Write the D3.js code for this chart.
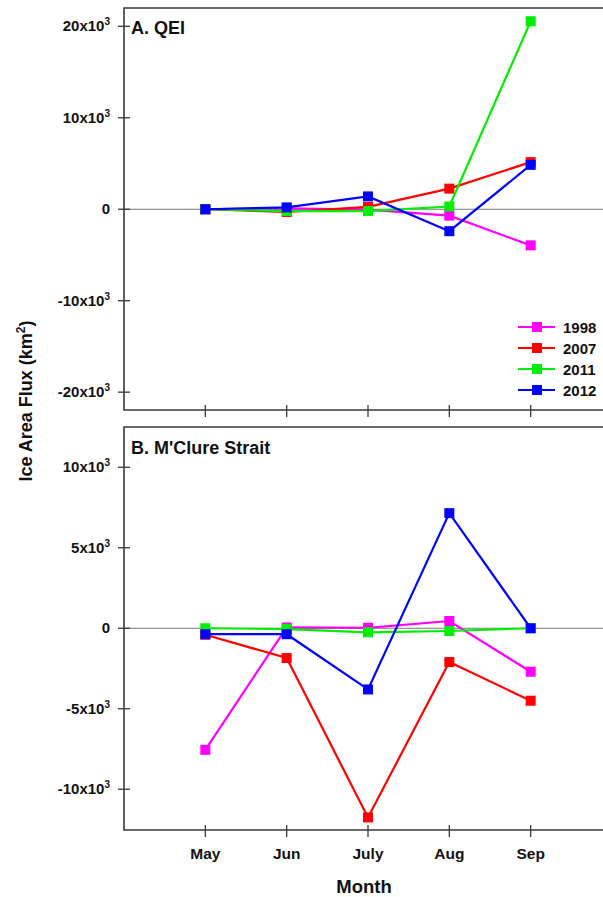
<!DOCTYPE html>
<html>
<head>
<meta charset="utf-8">
<script src="https://cdn.jsdelivr.net/npm/d3@7/dist/d3.min.js"></script>
<style>
  html, body { margin: 0; padding: 0; background: #fff; }
  svg { display: block; font-family: "Liberation Sans", Arial, sans-serif; font-weight: bold; }
</style>
</head>
<body>
<svg id="chart" width="603" height="897"></svg>
<script>
// Months on the x axis
const months = ["May", "Jun", "July", "Aug", "Sep"];
// Years plotted as series
const years = ["1998", "2007", "2011", "2012"];
const yearColors = ["#ff00ff", "#ff0000", "#00ee00", "#0000ff"];

// A. QEI ice area flux (km²)
const qei1998 = [0, 100, -50, -700, -3950];
const qei2007 = [0, -300, 250, 2250, 5150];
const qei2011 = [0, -200, -200, 300, 20550];
const qei2012 = [0, 200, 1400, -2400, 4850];

// B. M'Clure Strait ice area flux (km²)
const mcl1998 = [-7550, 50, 30, 450, -2700];
const mcl2007 = [-400, -1850, -11750, -2100, -4500];
const mcl2011 = [0, -50, -250, -170, 0];
const mcl2012 = [-370, -370, -3800, 7150, 0];

// Tick values and labels (mantissa, exponent)
const qeiTicks = [20000, 10000, 0, -10000, -20000];
const qeiTickLabels = [["20x10", "3"], ["10x10", "3"], ["0", ""], ["-10x10", "3"], ["-20x10", "3"]];
const mclTicks = [10000, 5000, 0, -5000, -10000];
const mclTickLabels = [["10x10", "3"], ["5x10", "3"], ["0", ""], ["-5x10", "3"], ["-10x10", "3"]];

const svg = d3.select("#chart");
const axisColor = "#3a3a3a";

const x = d3.scalePoint().domain(months).range([124, 612]).padding(1);

function panel(cfg) {
  const y = d3.scaleLinear().domain(cfg.domain).range([cfg.bottom, cfg.top]);
  const g = svg.append("g");
  const left = 124, right = 603;

  // zero reference line
  g.append("line")
    .attr("x1", left).attr("x2", right)
    .attr("y1", y(0)).attr("y2", y(0))
    .attr("stroke", "#777").attr("stroke-width", 1.2);

  // frame: top, left, bottom
  g.append("path")
    .attr("d", `M${right},${cfg.top}H${left}V${cfg.bottom}H${right}`)
    .attr("fill", "none").attr("stroke", axisColor).attr("stroke-width", 1.6);

  // y ticks, crossing the axis
  g.selectAll(".yt").data(cfg.ticks).join("line")
    .attr("x1", left - 6).attr("x2", left + 6)
    .attr("y1", d => y(d)).attr("y2", d => y(d))
    .attr("stroke", axisColor).attr("stroke-width", 1.3);

  const lbl = g.selectAll(".yl").data(cfg.ticks).join("text")
    .attr("x", 110).attr("y", d => y(d) + 5)
    .attr("text-anchor", "end")
    .attr("font-size", 15).attr("fill", "#111");
  lbl.append("tspan").text((d, i) => cfg.labels[i][0]);
  lbl.append("tspan").attr("dy", -6).attr("font-size", 10).text((d, i) => cfg.labels[i][1]);

  // x ticks, crossing the axis
  g.selectAll(".xt").data(months).join("line")
    .attr("x1", d => x(d)).attr("x2", d => x(d))
    .attr("y1", cfg.bottom - 5).attr("y2", cfg.bottom + 7)
    .attr("stroke", axisColor).attr("stroke-width", 1.3);

  // panel title
  g.append("text").attr("x", 131).attr("y", cfg.titleY)
    .attr("font-size", 18).attr("fill", "#111").text(cfg.title);

  // series
  const line = d3.line().x((d, i) => x(months[i])).y(d => y(d));
  cfg.series.forEach((vals, k) => {
    g.append("path").datum(vals)
      .attr("d", line).attr("fill", "none")
      .attr("stroke", yearColors[k]).attr("stroke-width", 2.2);
    g.selectAll(null).data(vals).join("rect")
      .attr("x", (d, i) => x(months[i]) - 5).attr("y", d => y(d) - 5)
      .attr("width", 10).attr("height", 10)
      .attr("fill", yearColors[k]);
  });
  return y;
}

panel({
  domain: [-21950, 22000], top: 8, bottom: 410,
  ticks: qeiTicks, labels: qeiTickLabels,
  title: "A. QEI", titleY: 34,
  series: [qei1998, qei2007, qei2011, qei2012]
});

panel({
  domain: [-12530, 12500], top: 427, bottom: 830,
  ticks: mclTicks, labels: mclTickLabels,
  title: "B. M'Clure Strait", titleY: 454,
  series: [mcl1998, mcl2007, mcl2011, mcl2012]
});

// legend
const leg = svg.append("g");
years.forEach((yr, k) => {
  const ly = 327 + k * 21;
  leg.append("line").attr("x1", 518).attr("x2", 555).attr("y1", ly).attr("y2", ly)
    .attr("stroke", yearColors[k]).attr("stroke-width", 2.2);
  leg.append("rect").attr("x", 532).attr("y", ly - 5).attr("width", 10).attr("height", 10)
    .attr("fill", yearColors[k]);
  leg.append("text").attr("x", 563).attr("y", ly + 5.5)
    .attr("font-size", 15).attr("fill", "#111").text(yr);
});

// month labels
svg.selectAll(".ml").data(months).join("text")
  .attr("x", d => x(d)).attr("y", 859)
  .attr("text-anchor", "middle").attr("font-size", 15.5).attr("fill", "#111")
  .text(d => d);

// axis titles
svg.append("text").attr("x", 364).attr("y", 893)
  .attr("text-anchor", "middle").attr("font-size", 18.5).attr("fill", "#111")
  .text("Month");

const yt = svg.append("text")
  .attr("transform", "translate(32,401) rotate(-90)")
  .attr("text-anchor", "middle").attr("font-size", 18).attr("fill", "#111");
yt.append("tspan").text("Ice Area Flux (km");
yt.append("tspan").attr("dy", -7).attr("font-size", 12).text("2");
yt.append("tspan").attr("dy", 7).text(")");
</script>
</body>
</html>
